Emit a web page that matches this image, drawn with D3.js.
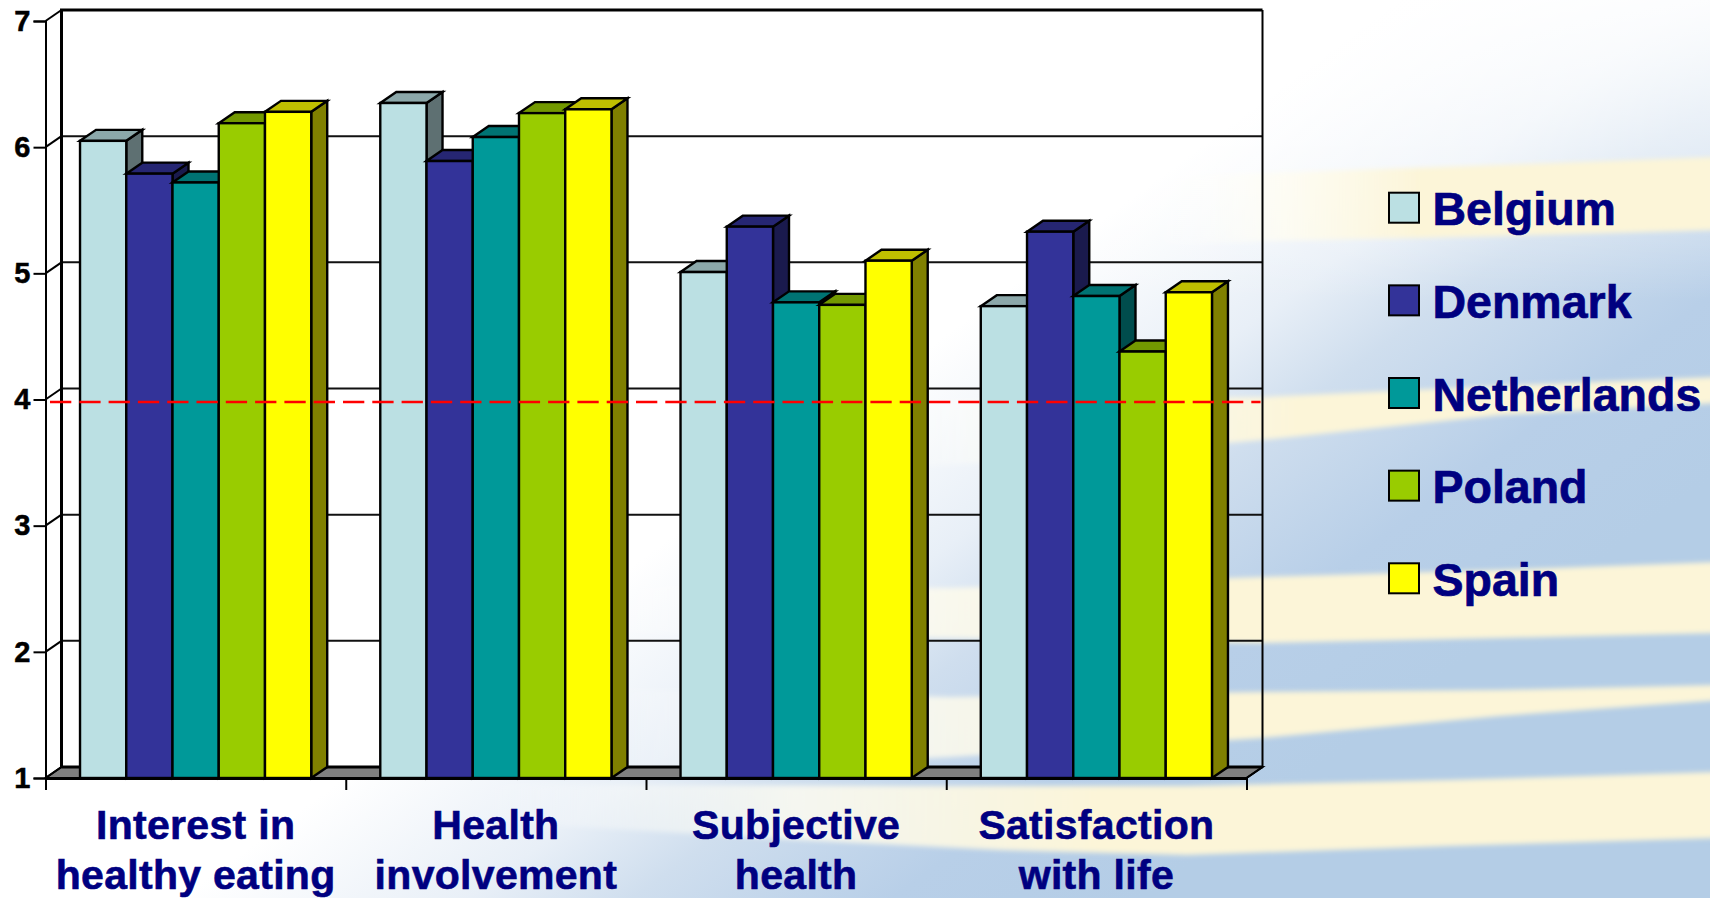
<!DOCTYPE html>
<html>
<head>
<meta charset="utf-8">
<title>Health attitudes by country</title>
<script src="https://cdn.jsdelivr.net/npm/d3@7"></script>
<style>
  html, body { margin: 0; padding: 0; background: #fff; overflow: hidden; }
  svg { display: block; }
  text { font-family: "Liberation Sans", Arial, sans-serif; font-weight: bold; }
</style>
</head>
<body>
<svg id="chart" width="1710" height="898"></svg>
<script>
// Survey means per measure, one list per country
const categories = [
  ["Interest in", "healthy eating"],
  ["Health", "involvement"],
  ["Subjective", "health"],
  ["Satisfaction", "with life"]
];
const countries = ["Belgium", "Denmark", "Netherlands", "Poland", "Spain"];
const belgium     = [6.05, 6.35, 5.01, 4.74];
const denmark     = [5.79, 5.89, 5.37, 5.33];
const netherlands = [5.72, 6.08, 4.77, 4.82];
const poland      = [6.19, 6.27, 4.75, 4.38];
const spain       = [6.28, 6.30, 5.10, 4.85];
const seriesValues = [belgium, denmark, netherlands, poland, spain];
const frontColors = ["#BBE0E3", "#333399", "#009999", "#99CC00", "#FFFF00"];
const yTicks = [1, 2, 3, 4, 5, 6, 7];
const referenceValue = 3.98;

const navy = "#000080";
const svg = d3.select("#chart");
const defs = svg.append("defs");

// ---- Slide backdrop: pale diagonal wash with soft cream streaks ----
const wash = defs.append("linearGradient").attr("id", "wash")
  .attr("gradientUnits", "userSpaceOnUse")
  .attr("x1", 492).attr("y1", 669).attr("x2", 830).attr("y2", 1128);
[[0, "#ffffff"], [0.3, "#e8eff7"], [0.47, "#cfdeee"], [0.74, "#b8cfe8"], [1, "#b4cde6"]]
  .forEach(([o, c]) => wash.append("stop").attr("offset", o).attr("stop-color", c));

const topFade = defs.append("linearGradient").attr("id", "topFade")
  .attr("x1", 0).attr("y1", 0).attr("x2", 0).attr("y2", 1);
[[0, 0.88], [0.55, 0.45], [1, 0]]
  .forEach(([o, a]) => topFade.append("stop").attr("offset", o)
    .attr("stop-color", "#ffffff").attr("stop-opacity", a));

defs.append("filter").attr("id", "soft")
  .attr("x", "-5%").attr("y", "-30%").attr("width", "110%").attr("height", "160%")
  .append("feGaussianBlur").attr("stdDeviation", 2.5);

svg.append("rect").attr("width", 1710).attr("height", 898).attr("fill", "url(#wash)");
svg.append("rect").attr("width", 1710).attr("height", 300).attr("fill", "url(#topFade)");

const streaks = [
  { from: 1150, to: 1420, pts: [[1130,177],[1262,173],[1500,165],[1720,157],[1720,230],[1500,236],[1262,241],[1130,246]] },
  { from: 860,  to: 1300, pts: [[840,402],[1262,397],[1500,386],[1720,377],[1720,403],[1500,415],[1262,440],[1000,462],[840,470]] },
  { from: 590,  to: 1200, pts: [[570,586],[950,588],[1262,577],[1500,570],[1720,562],[1720,633],[1500,638],[1262,643],[950,638],[570,632]] },
  { from: 590,  to: 1200, pts: [[570,688],[950,697],[1262,692],[1500,690],[1720,685],[1720,700],[1500,716],[1262,738],[950,757],[570,775]] },
  { from: 480,  to: 1100, pts: [[460,784],[900,786],[1187,786],[1450,780],[1720,772],[1720,838],[1450,846],[1187,855],[1000,850],[800,840],[460,820]] }
];
streaks.forEach((s, i) => {
  const g = defs.append("linearGradient").attr("id", "streak" + i)
    .attr("gradientUnits", "userSpaceOnUse")
    .attr("x1", s.from).attr("y1", 0).attr("x2", s.to).attr("y2", 0);
  [[0, "#ffffff", 0], [0.5, "#fffdf1", 0.8], [1, "#fcf5d8", 1]]
    .forEach(([o, c, a]) => g.append("stop").attr("offset", o)
      .attr("stop-color", c).attr("stop-opacity", a));
});
svg.append("g").attr("filter", "url(#soft)").selectAll("path").data(streaks).join("path")
  .attr("d", d => "M" + d.pts.join("L") + "Z")
  .attr("fill", (d, i) => `url(#streak${i})`);

// ---- Scales ----
const x0 = d3.scaleBand().domain(d3.range(categories.length))
  .range([45.5, 1246.5]).paddingInner(0.23).paddingOuter(0.115);
const x1 = d3.scaleBand().domain(d3.range(countries.length))
  .range([0, x0.bandwidth()]);
const y = d3.scaleLinear().domain([1, 7]).range([778, 21]);

// Offset of the rear plane relative to the front plane
const depthX = 16, depthY = -11;
const plotLeft = x0.range()[0], plotRight = x0.range()[1];

// ---- Floor ----
svg.append("path")
  .attr("d", `M${plotLeft},${y(1)}L${plotLeft + depthX},${y(1) + depthY}L${plotRight + depthX},${y(1) + depthY}L${plotRight},${y(1)}Z`)
  .attr("fill", "#808080").attr("stroke", "#000").attr("stroke-width", 2);

// ---- Back wall gridlines and their slanted returns to the axis ----
const grid = svg.append("g");
grid.selectAll("line.h").data(yTicks.slice(0, -1)).join("line").attr("class", "h")
  .attr("x1", plotLeft + depthX).attr("x2", plotRight + depthX)
  .attr("y1", d => y(d) + depthY).attr("y2", d => y(d) + depthY)
  .attr("stroke", d => d === 1 ? "#000" : "#111").attr("stroke-width", d => d === 1 ? 3 : 2);
grid.selectAll("line.d").data(yTicks).join("line").attr("class", "d")
  .attr("x1", plotLeft).attr("x2", plotLeft + depthX)
  .attr("y1", d => y(d)).attr("y2", d => y(d) + depthY)
  .attr("stroke", "#000").attr("stroke-width", 2);
grid.append("path")
  .attr("d", `M${plotLeft + depthX},${y(1) + depthY}V${y(7) + depthY}H${plotRight + depthX}`)
  .attr("fill", "none").attr("stroke", "#000").attr("stroke-width", 3);
grid.append("path")
  .attr("d", `M${plotRight + depthX},${y(7) + depthY}V${y(1) + depthY}L${plotRight},${y(1)}`)
  .attr("fill", "none").attr("stroke", "#000").attr("stroke-width", 2);

// ---- Prism bars, painted left to right so each front hides its neighbour's side ----
const shade = (hex, k) => {
  const c = d3.rgb(hex);
  return d3.rgb(c.r * k, c.g * k, c.b * k).formatHex();
};
const barData = [];
categories.forEach((_, ci) => countries.forEach((_, si) =>
  barData.push({ ci, si, value: seriesValues[si][ci] })));

const bars = svg.append("g").selectAll("g").data(barData).join("g")
  .attr("stroke", "#000").attr("stroke-width", 2.4).attr("stroke-linejoin", "miter");
bars.append("path") // right side
  .attr("fill", d => shade(frontColors[d.si], 0.5))
  .attr("d", d => {
    const r = x0(d.ci) + x1(d.si) + x1.bandwidth(), t = y(d.value), b = y(1);
    return `M${r},${t}L${r + depthX},${t + depthY}V${b + depthY}L${r},${b}Z`;
  });
bars.append("path") // top
  .attr("fill", d => shade(frontColors[d.si], 0.75))
  .attr("d", d => {
    const l = x0(d.ci) + x1(d.si), r = l + x1.bandwidth(), t = y(d.value);
    return `M${l},${t}L${l + depthX},${t + depthY}H${r + depthX}L${r},${t}Z`;
  });
bars.append("rect") // front
  .attr("fill", d => frontColors[d.si])
  .attr("x", d => x0(d.ci) + x1(d.si))
  .attr("y", d => y(d.value))
  .attr("width", x1.bandwidth())
  .attr("height", d => y(1) - y(d.value));

// ---- Dashed reference line across everything ----
svg.append("line")
  .attr("x1", 50).attr("x2", plotRight + depthX - 2)
  .attr("y1", y(referenceValue)).attr("y2", y(referenceValue))
  .attr("stroke", "#ff0000").attr("stroke-width", 2.6)
  .attr("stroke-dasharray", "21.3 8");

// ---- Value axis ----
const yAxis = d3.axisLeft(y).tickValues(yTicks).tickFormat(d3.format("d"))
  .tickSize(12).tickPadding(3);
const yG = svg.append("g").attr("transform", `translate(${plotLeft},0)`).call(yAxis);
yG.select(".domain").attr("stroke", "#000").attr("stroke-width", 2);
yG.selectAll(".tick line").attr("stroke", "#000").attr("stroke-width", 2);
yG.selectAll(".tick text").attr("font-size", 29).attr("fill", "#000")
  .attr("stroke", "#000").attr("stroke-width", 0.5)
  .style("font-family", '"Liberation Sans", Arial, sans-serif').style("font-weight", "bold");

// ---- Category axis with boundary ticks ----
const xEdge = d3.scaleLinear().domain([0, categories.length]).range([plotLeft, plotRight]);
const xAxis = d3.axisBottom(xEdge).ticks(categories.length).tickFormat("").tickSize(12).tickSizeOuter(0);
const xG = svg.append("g").attr("transform", `translate(0,${y(1)})`).call(xAxis);
xG.select(".domain").attr("stroke", "#000").attr("stroke-width", 3);
xG.selectAll(".tick line").attr("stroke", "#000").attr("stroke-width", 2);

const catLabels = svg.append("g").selectAll("text").data(categories).join("text")
  .attr("text-anchor", "middle").attr("font-size", 41).attr("fill", navy)
  .attr("stroke", navy).attr("stroke-width", 0.6)
  .attr("letter-spacing", 0.3)
  .attr("transform", (d, i) => `translate(${x0(i) + x0.bandwidth() / 2},839)`);
catLabels.selectAll("tspan").data(d => d).join("tspan")
  .attr("x", 0).attr("y", (d, i) => i * 50.3).text(d => d);

// ---- Legend ----
const legendY = d3.scalePoint().domain(countries).range([192.7, 563.3]);
const legend = svg.append("g").selectAll("g").data(countries).join("g")
  .attr("transform", d => `translate(1389,${legendY(d)})`);
legend.append("rect").attr("width", 30).attr("height", 30)
  .attr("fill", (d, i) => frontColors[i]).attr("stroke", "#000").attr("stroke-width", 2);
legend.append("text").attr("x", 43.5).attr("y", 32.5)
  .attr("font-size", 46.5).attr("fill", navy)
  .attr("stroke", navy).attr("stroke-width", 0.7)
  .text(d => d);
</script>
</body>
</html>
